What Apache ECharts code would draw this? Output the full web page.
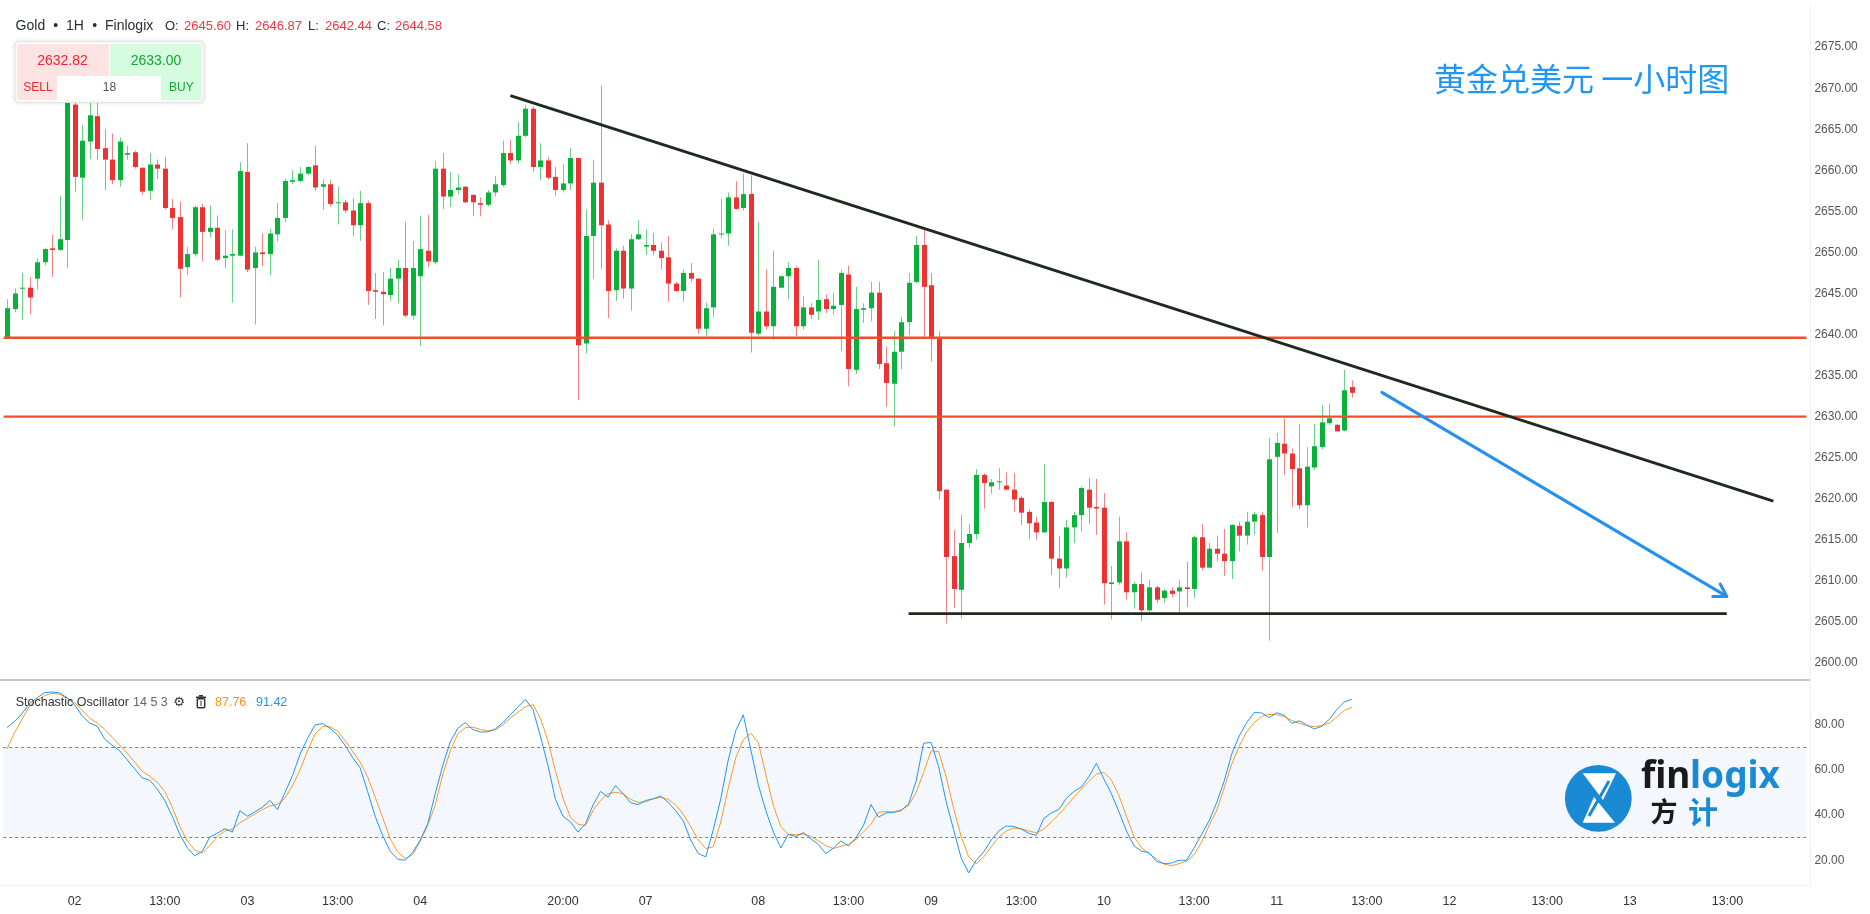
<!DOCTYPE html>
<html>
<head>
<meta charset="utf-8">
<title>Gold 1H</title>
<script src="https://cdn.jsdelivr.net/npm/echarts@6/dist/echarts.min.js"></script>
<style>
  html, body { margin: 0; padding: 0; background: #fff; }
  #chart { width: 1870px; height: 914px; }
</style>
</head>
<body>
<div id="chart"></div>
<script>
// hourly candles, one row per bar: [open, close, low, high]
var ohlc = [
  [2639.7, 2643.2, 2639.5, 2644.3], [2643.1, 2645.0, 2642.7, 2645.6], [2645.6, 2645.7, 2641.8, 2647.5], [2645.7, 2644.5, 2642.5, 2647.0],
  [2646.8, 2648.8, 2645.5, 2649.3], [2648.8, 2650.4, 2648.4, 2650.5], [2650.5, 2650.3, 2647.0, 2652.2], [2650.3, 2651.6, 2650.2, 2656.9],
  [2651.5, 2668.4, 2648.1, 2669.6], [2668.0, 2659.2, 2657.4, 2668.6], [2659.1, 2663.6, 2654.0, 2665.5], [2663.5, 2666.7, 2661.4, 2668.4],
  [2666.6, 2662.6, 2661.3, 2668.2], [2662.7, 2661.3, 2657.6, 2665.0], [2661.3, 2658.8, 2658.3, 2664.5], [2658.8, 2663.5, 2658.0, 2664.0],
  [2661.9, 2662.1, 2661.3, 2663.0], [2662.2, 2660.4, 2660.2, 2662.4], [2660.3, 2657.4, 2657.0, 2660.4], [2657.5, 2660.7, 2656.4, 2662.1],
  [2660.7, 2660.2, 2658.9, 2661.3], [2660.2, 2655.4, 2655.2, 2661.6], [2655.4, 2654.2, 2652.8, 2656.5], [2654.3, 2648.0, 2644.5, 2656.2],
  [2648.2, 2649.8, 2647.2, 2650.7], [2649.8, 2655.5, 2649.5, 2655.7], [2655.5, 2652.5, 2648.9, 2655.9], [2652.5, 2653.0, 2651.8, 2655.7],
  [2653.0, 2649.1, 2648.9, 2654.5], [2649.3, 2649.6, 2648.1, 2652.7], [2649.6, 2649.8, 2643.9, 2652.8], [2649.6, 2659.9, 2649.5, 2661.0],
  [2659.8, 2647.9, 2647.6, 2663.3], [2648.1, 2650.0, 2641.2, 2650.7], [2650.0, 2649.8, 2648.3, 2652.3], [2649.8, 2652.3, 2647.2, 2652.9],
  [2652.2, 2654.2, 2651.3, 2656.0], [2654.2, 2658.7, 2653.7, 2659.0], [2658.6, 2658.8, 2658.3, 2660.0], [2658.7, 2659.6, 2658.5, 2660.4],
  [2659.6, 2660.4, 2659.4, 2660.5], [2660.6, 2657.9, 2657.5, 2663.0], [2658.0, 2658.3, 2655.2, 2658.9], [2658.3, 2655.9, 2655.6, 2658.8],
  [2656.0, 2656.1, 2653.4, 2658.0], [2656.1, 2655.1, 2654.8, 2656.4], [2655.1, 2653.3, 2652.0, 2656.6], [2653.3, 2656.0, 2651.4, 2657.5],
  [2656.0, 2645.3, 2643.6, 2656.3], [2645.4, 2645.2, 2641.9, 2647.5], [2645.2, 2644.9, 2641.1, 2647.6], [2644.8, 2646.8, 2644.1, 2648.1],
  [2646.8, 2648.1, 2643.8, 2649.1], [2648.1, 2642.3, 2642.1, 2653.7], [2642.3, 2648.1, 2641.8, 2651.4], [2647.1, 2650.4, 2638.6, 2654.4],
  [2650.2, 2648.9, 2648.2, 2654.6], [2648.8, 2660.2, 2648.6, 2661.1], [2660.2, 2656.8, 2655.3, 2662.1], [2656.8, 2657.6, 2655.5, 2659.8],
  [2657.6, 2657.9, 2657.1, 2659.5], [2658.0, 2656.1, 2656.0, 2658.1], [2657.0, 2656.1, 2654.4, 2657.1], [2656.0, 2655.8, 2654.4, 2656.7],
  [2655.8, 2657.3, 2655.6, 2657.6], [2657.3, 2658.3, 2656.8, 2659.3], [2658.2, 2662.1, 2658.0, 2663.6], [2662.1, 2661.2, 2660.8, 2663.7],
  [2661.2, 2664.2, 2660.8, 2665.9], [2664.2, 2667.5, 2664.0, 2668.0], [2667.5, 2660.4, 2659.8, 2667.8], [2660.4, 2661.2, 2658.8, 2663.3],
  [2661.2, 2659.1, 2658.9, 2661.6], [2659.2, 2657.6, 2656.9, 2660.4], [2657.6, 2658.4, 2657.3, 2660.8], [2658.4, 2661.5, 2657.6, 2662.7],
  [2661.5, 2638.7, 2632.0, 2661.5], [2638.9, 2652.0, 2637.7, 2655.2], [2652.0, 2658.5, 2646.8, 2661.3], [2658.5, 2653.3, 2648.0, 2670.3],
  [2653.4, 2645.3, 2642.0, 2653.9], [2645.4, 2650.2, 2644.1, 2650.5], [2650.2, 2645.6, 2644.4, 2650.8], [2645.6, 2651.6, 2642.9, 2652.2],
  [2651.6, 2652.2, 2651.5, 2653.9], [2650.7, 2650.9, 2649.7, 2652.8], [2650.9, 2650.2, 2649.7, 2652.4], [2650.2, 2649.3, 2647.9, 2651.2],
  [2649.4, 2646.2, 2644.0, 2652.0], [2646.2, 2645.3, 2645.2, 2646.4], [2645.3, 2647.5, 2644.0, 2647.9], [2647.5, 2646.8, 2646.4, 2648.7],
  [2646.8, 2640.7, 2640.1, 2646.9], [2640.7, 2643.2, 2639.7, 2643.9], [2643.3, 2652.2, 2642.1, 2652.9], [2652.2, 2652.3, 2651.7, 2656.5],
  [2652.3, 2656.7, 2650.8, 2657.3], [2656.7, 2655.3, 2655.2, 2658.7], [2655.4, 2657.1, 2655.1, 2659.6], [2657.1, 2640.2, 2637.8, 2659.4],
  [2640.1, 2642.8, 2639.9, 2653.7], [2642.8, 2641.0, 2640.6, 2647.9], [2641.0, 2645.8, 2639.4, 2650.2], [2645.7, 2647.1, 2645.6, 2647.2],
  [2647.1, 2648.1, 2644.3, 2648.8], [2648.1, 2641.0, 2639.8, 2648.3], [2641.0, 2643.3, 2640.6, 2644.7], [2643.3, 2642.4, 2641.9, 2643.8],
  [2642.8, 2644.2, 2641.8, 2649.1], [2644.3, 2643.1, 2642.6, 2644.9], [2643.1, 2643.5, 2642.4, 2645.1], [2643.6, 2647.5, 2638.0, 2647.9],
  [2647.3, 2635.8, 2633.7, 2648.4], [2635.7, 2643.1, 2635.2, 2645.8], [2643.0, 2643.2, 2641.4, 2643.8], [2643.2, 2645.1, 2641.6, 2646.4],
  [2645.1, 2636.4, 2635.8, 2646.4], [2636.5, 2634.1, 2631.2, 2638.5], [2634.0, 2637.9, 2628.8, 2640.4], [2637.9, 2641.5, 2635.8, 2642.1],
  [2641.5, 2646.3, 2639.9, 2647.5], [2646.4, 2650.9, 2646.2, 2652.0], [2650.9, 2645.8, 2639.7, 2652.9], [2646.0, 2639.5, 2636.7, 2647.5],
  [2639.5, 2620.9, 2619.9, 2640.4], [2621.1, 2612.9, 2604.8, 2621.1], [2613.0, 2609.0, 2606.7, 2616.2], [2608.9, 2614.6, 2605.4, 2618.0],
  [2614.6, 2615.7, 2614.0, 2616.9], [2615.7, 2622.9, 2615.0, 2623.6], [2622.9, 2621.9, 2618.8, 2623.1], [2621.5, 2622.0, 2620.6, 2622.4],
  [2622.0, 2622.1, 2621.1, 2623.7], [2621.6, 2621.1, 2621.0, 2623.2], [2621.1, 2619.9, 2618.4, 2623.1], [2620.1, 2618.3, 2616.8, 2620.3],
  [2618.4, 2617.0, 2615.1, 2618.7], [2617.1, 2615.9, 2615.0, 2617.8], [2615.9, 2619.6, 2615.8, 2624.2], [2619.6, 2612.7, 2610.7, 2619.7],
  [2612.7, 2611.5, 2609.1, 2615.5], [2611.5, 2616.5, 2610.4, 2617.4], [2616.5, 2618.0, 2614.6, 2618.4], [2618.0, 2621.3, 2616.0, 2621.5],
  [2621.1, 2618.9, 2616.9, 2622.5], [2619.0, 2618.8, 2615.6, 2622.4], [2618.9, 2609.7, 2607.1, 2620.7], [2609.6, 2609.8, 2605.3, 2611.8],
  [2609.8, 2614.8, 2609.5, 2617.8], [2614.8, 2608.6, 2607.7, 2615.9], [2608.6, 2609.6, 2606.6, 2609.9], [2609.6, 2606.4, 2605.1, 2611.0],
  [2606.4, 2609.2, 2606.2, 2610.1], [2609.2, 2607.7, 2607.3, 2609.4], [2607.9, 2608.8, 2607.3, 2609.0], [2608.8, 2608.4, 2608.0, 2609.2],
  [2608.7, 2609.2, 2606.1, 2610.1], [2609.2, 2609.0, 2606.8, 2612.3], [2609.0, 2615.3, 2607.9, 2615.5], [2615.3, 2611.6, 2611.3, 2616.9],
  [2611.6, 2613.9, 2611.5, 2614.6], [2613.9, 2613.3, 2612.4, 2615.5], [2613.3, 2612.4, 2610.6, 2616.3], [2612.4, 2616.8, 2610.2, 2616.9],
  [2616.7, 2615.5, 2613.6, 2617.2], [2615.5, 2617.2, 2614.4, 2618.4], [2617.2, 2618.1, 2615.6, 2618.4], [2618.0, 2612.9, 2611.2, 2618.4],
  [2612.9, 2624.8, 2602.7, 2627.4], [2625.1, 2626.8, 2615.8, 2628.0], [2626.7, 2625.5, 2622.9, 2629.8], [2625.5, 2623.6, 2619.0, 2626.1],
  [2623.7, 2619.2, 2618.7, 2629.1], [2619.2, 2623.9, 2616.5, 2626.3], [2623.8, 2626.4, 2623.5, 2629.1], [2626.3, 2629.3, 2626.0, 2631.4],
  [2629.2, 2629.8, 2629.0, 2631.5], [2629.0, 2628.2, 2628.2, 2629.1], [2628.3, 2633.2, 2628.2, 2635.7], [2633.6, 2632.9, 2632.3, 2634.4]
];

// stochastic oscillator 14 5 3
var stochK = [
  78.8, 81.5, 85, 89.5, 92, 94.3, 94.6, 94.2, 92, 89, 84, 80.8, 79.5, 73.7, 71, 68.5, 64.5, 60.5, 56.5, 55.5,
  51.6, 46.5, 39.5, 31.5, 25.5, 22, 24, 30.3, 32, 34, 32.5, 42, 39.5, 41.5, 43.5, 46.5, 42.5, 50, 57.5, 67,
  74, 80, 80.6, 78.5, 75.5, 71, 65.5, 61, 50.5, 39.5, 31, 24, 20.5, 20, 23.5, 29, 36.2, 49.5, 62, 72.5,
  78.5, 81, 78, 76.9, 76.9, 78.2, 81, 84.5, 88, 91.3, 86.9, 75, 62, 47, 39.5, 37, 32.5, 36.2, 44.5, 50.5,
  48, 53.1, 49.5, 45.5, 44.7, 46.5, 47.2, 48.5, 45.7, 42, 37.5, 29, 23, 21.5, 33.5, 47.2, 64.5, 77.5, 84.5, 69,
  53.5, 42, 32.5, 25.5, 31.5, 30.5, 32.3, 29.5, 27, 22.9, 25.5, 28.6, 26.3, 30, 35.5, 44.7, 39.1, 41, 41.3, 42,
  45, 55, 71.9, 72.2, 61.5, 46, 33.5, 21, 14.4, 20, 23.7, 29, 33, 35.2, 35, 33.8, 32, 31, 38.5, 41,
  42.5, 47.5, 50.5, 52.5, 57, 63, 56, 49.5, 41.5, 33, 26.4, 24, 23.4, 19.5, 18.5, 18.8, 20, 20, 25.5, 31.5,
  37.5, 45.5, 55, 67, 75, 81, 85.5, 85.3, 83.2, 85.4, 84.3, 80.7, 81.8, 80, 78.2, 79.4, 82.5, 86.8, 90.2, 91.42
];
var stochD = [
  69.3, 76.5, 82.5, 88.5, 91, 93, 94, 93.6, 91.8, 89.8, 86.5, 83, 80.8, 78.1, 74.5, 71, 67.5, 63.5, 59.5, 57.2,
  54.6, 50.5, 43.5, 35, 28.5, 24.5, 23.2, 26.5, 30.5, 33, 33.8, 36.6, 38.6, 40.5, 42.5, 44.1, 44.8, 47.5, 53.1, 60,
  68.5, 76, 79.3, 79.2, 77.2, 73, 68.3, 63.5, 57, 48, 39, 29.5, 23.7, 20.7, 22.5, 28.5, 35.5, 44.5, 58, 68.5,
  76, 78.8, 79, 78, 77.4, 77.8, 80, 83, 85.6, 88, 89, 83, 73, 59.5, 47.5, 39, 36, 35.4, 42, 46.5,
  49.5, 50.1, 49.5, 47, 45.7, 45.9, 47.3, 47.9, 47, 44.5, 40.5, 35, 29, 25.2, 26, 36.9, 52, 65.5, 73.5, 76.3,
  72.2, 58, 44.3, 35, 31.5, 31.3, 31.6, 30.6, 28.6, 26.4, 25.2, 26.2, 27.2, 29.2, 32.5, 36, 41.3, 41.6, 41.4, 42.3,
  44.3, 50, 59, 68.5, 68.2, 57, 43, 30.5, 21.5, 18.5, 21.5, 26, 30.2, 33, 34.2, 34, 33, 32.2, 33.8, 37,
  40.3, 44, 48, 51.5, 55, 58.2, 59, 55.5, 48.7, 39.5, 30.5, 25.5, 23, 20.5, 18.3, 17.6, 18.5, 19.6, 22.5, 28,
  35.5, 42, 52, 62.5, 70.5, 77, 81, 83.8, 84.7, 84.5, 83.7, 82, 80.7, 79.6, 79.3, 79.7, 80.8, 83.5, 86.5, 87.76
];

// time axis: bar slot index -> label
var tickIdx = [9, 21, 32, 44, 55, 74, 85, 100, 112, 123, 135, 146, 158, 169, 181, 192, 205, 216, 229];
var tickText = ['02', '13:00', '03', '13:00', '04', '20:00', '07', '08', '13:00', '09', '13:00', '10', '13:00', '11', '13:00', '12', '13:00', '13', '13:00'];
var priceTicks = [2600, 2605, 2610, 2615, 2620, 2625, 2630, 2635, 2640, 2645, 2650, 2655, 2660, 2665, 2670, 2675];
var oscTicks = [20, 40, 60, 80];

// drawn analysis lines (bar index, price)
var levels = [2639.6, 2630];
var trendLine = [[67.0, 2669.1], [235.1, 2619.7]];
var baseLine = [[120.0, 2606.0], [228.9, 2606.0]];
var arrowLine = [[183.0, 2632.95, 228.9, 2608.1]];

var slots = 240;
var bodyUp = '#08b23a', bodyDown = '#ef3131';
var wickUp = 'rgba(8,178,58,0.6)', wickDown = 'rgba(239,49,49,0.6)';
var uiFont = 'Liberation Sans';

var candleData = ohlc.map(function (r, i) { return [i, r[0], r[1], r[2], r[3]]; });
var kData = stochK.map(function (v, i) { return [i, v]; });
var dData = stochD.map(function (v, i) { return [i, v]; });

function renderCandle(params, api) {
  var i = api.value(0);
  var o = api.value(1), c = api.value(2), lo = api.value(3), hi = api.value(4);
  var pHi = api.coord([i, hi]), pLo = api.coord([i, lo]);
  var pO = api.coord([i, o]), pC = api.coord([i, c]);
  var up = c >= o;
  var x = Math.round(pHi[0]) + 0.5;
  var w = 5;
  var y0 = Math.min(pO[1], pC[1]);
  var h = Math.max(Math.abs(pO[1] - pC[1]), 1);
  return {
    type: 'group',
    children: [
      { type: 'line', shape: { x1: x, y1: pHi[1], x2: x, y2: pLo[1] },
        style: { stroke: up ? wickUp : wickDown, lineWidth: 1 } },
      { type: 'rect', shape: { x: x - w / 2, y: y0, width: w, height: h },
        style: { fill: up ? bodyUp : bodyDown } }
    ]
  };
}

function renderArrow(params, api) {
  var a = api.coord([api.value(0), api.value(1)]);
  var b = api.coord([api.value(2), api.value(3)]);
  var ang = Math.atan2(b[1] - a[1], b[0] - a[0]);
  var len = 14, spread = 0.55;
  var p1 = [b[0] - len * Math.cos(ang - spread), b[1] - len * Math.sin(ang - spread)];
  var p2 = [b[0] - len * Math.cos(ang + spread), b[1] - len * Math.sin(ang + spread)];
  var st = { stroke: '#2490f0', lineWidth: 3, lineCap: 'round', lineJoin: 'round', fill: null };
  return {
    type: 'group',
    children: [
      { type: 'line', shape: { x1: a[0], y1: a[1], x2: b[0], y2: b[1] }, style: st },
      { type: 'polyline', shape: { points: [p1, b, p2] }, style: st }
    ]
  };
}

function flatLine(name, pts, color, width) {
  return {
    name: name, type: 'line', xAxisIndex: 0, yAxisIndex: 0,
    data: pts, symbol: 'none', silent: true, z: 4,
    lineStyle: { color: color, width: width }
  };
}

var series = [
  {
    name: 'Gold', type: 'custom', xAxisIndex: 0, yAxisIndex: 0,
    renderItem: renderCandle, data: candleData, z: 2,
    encode: { x: 0, y: [1, 2, 3, 4] }
  }
];
levels.forEach(function (lv, i) {
  series.push(flatLine('level' + i, [[-0.45, lv], [slots - 0.5, lv]], '#f24e2b', 2.4));
});
series.push(flatLine('trend', trendLine, '#1d2a1d', 2.8));
series.push(flatLine('base', baseLine, '#1d2a1d', 2.6));
series.push({
  name: 'arrow', type: 'custom', xAxisIndex: 0, yAxisIndex: 0,
  renderItem: renderArrow, data: arrowLine, z: 5, silent: true,
  encode: { x: [0, 2], y: [1, 3] }
});
series.push({
  name: '%K', type: 'line', xAxisIndex: 1, yAxisIndex: 1, data: kData,
  symbol: 'none', z: 4, lineStyle: { color: '#2196f3', width: 1 },
  markArea: {
    silent: true, itemStyle: { color: '#f4f8fe' },
    data: [[{ yAxis: 30 }, { yAxis: 70 }]]
  },
  markLine: {
    silent: true, symbol: 'none', label: { show: false },
    lineStyle: { color: '#2196f3', type: [3, 3], width: 1 },
    data: [{ yAxis: 70 }, { yAxis: 30 }]
  }
});
series.push({
  name: '%D', type: 'line', xAxisIndex: 1, yAxisIndex: 1, data: dData,
  symbol: 'none', z: 3, lineStyle: { color: '#f89b29', width: 1 }
});

function txt(x, y, s, color, size, extra) {
  var st = { x: x, y: y, text: s, fill: color, font: size + 'px "' + uiFont + '"', textVerticalAlign: 'middle' };
  for (var k in extra) st[k] = extra[k];
  return { type: 'text', z: 101, style: st };
}

var graphics = [
  // pane frames
  { type: 'line', z: 50, shape: { x1: 0, y1: 680, x2: 1810, y2: 680 }, style: { stroke: '#c6c6c6', lineWidth: 2 } },
  { type: 'line', z: 50, shape: { x1: 0, y1: 885.5, x2: 1810, y2: 885.5 }, style: { stroke: '#efefef', lineWidth: 1 } },
  { type: 'line', z: 50, shape: { x1: 1810.5, y1: 4, x2: 1810.5, y2: 885 }, style: { stroke: '#f0f0f0', lineWidth: 1 } },

  // header
  txt(15.6, 26, 'Gold', '#2a2e39', 14),
  txt(55.8, 26, '•', '#2a2e39', 14, { textAlign: 'center' }),
  txt(66, 26, '1H', '#2a2e39', 14),
  txt(94.6, 26, '•', '#2a2e39', 14, { textAlign: 'center' }),
  txt(105, 26, 'Finlogix', '#2a2e39', 14),
  txt(165, 26, 'O:', '#2a2e39', 13),
  txt(184, 26, '2645.60', '#f23645', 13),
  txt(236, 26, 'H:', '#2a2e39', 13),
  txt(255, 26, '2646.87', '#f23645', 13),
  txt(308, 26, 'L:', '#2a2e39', 13),
  txt(325, 26, '2642.44', '#f23645', 13),
  txt(377, 26, 'C:', '#2a2e39', 13),
  txt(395, 26, '2644.58', '#f23645', 13),

  // sell / buy panel
  { type: 'rect', z: 100, shape: { x: 15, y: 41.5, width: 189, height: 61, r: 4 },
    style: { fill: '#fff', stroke: '#e4e4e4', lineWidth: 1, shadowBlur: 4, shadowColor: 'rgba(0,0,0,0.12)' } },
  { type: 'rect', z: 100, shape: { x: 17, y: 44, width: 92, height: 56, r: [2, 0, 0, 2] }, style: { fill: '#fde3e3' } },
  { type: 'rect', z: 100, shape: { x: 110, y: 44, width: 92, height: 56, r: [0, 2, 2, 0] }, style: { fill: '#d5fcdf' } },
  { type: 'rect', z: 100, shape: { x: 57, y: 76, width: 104, height: 24 }, style: { fill: '#ffffff' } },
  txt(62.5, 60.7, '2632.82', '#f5222d', 14, { textAlign: 'center' }),
  txt(156, 60.7, '2633.00', '#16a534', 14, { textAlign: 'center' }),
  txt(38, 88, 'SELL', '#f5222d', 12, { textAlign: 'center' }),
  txt(109.4, 88, '18', '#555555', 12, { textAlign: 'center' }),
  txt(181.3, 88, 'BUY', '#16a534', 12, { textAlign: 'center' }),

  // title
  { type: 'text', z: 101, style: { x: 1434, y: 79, text: '黄金兑美元 一小时图', fill: '#2196f3',
    font: '32px "Noto Sans CJK SC"', textVerticalAlign: 'middle' } },

  // oscillator legend
  txt(15.7, 702.7, 'Stochastic Oscillator', '#333333', 12.5),
  txt(133, 702.7, '14 5 3', '#666666', 12.5),
  { type: 'text', z: 101, style: { x: 179, y: 702.7, text: '⚙', fill: '#333', font: '13px "DejaVu Sans"',
    textAlign: 'center', textVerticalAlign: 'middle' } },
  { type: 'rect', z: 101, shape: { x: 199, y: 695, width: 4, height: 1.6 }, style: { fill: '#333' } },
  { type: 'rect', z: 101, shape: { x: 196, y: 696.5, width: 10, height: 1.6 }, style: { fill: '#333' } },
  { type: 'rect', z: 101, shape: { x: 197.3, y: 698.8, width: 7.4, height: 9, r: 1 },
    style: { fill: 'none', stroke: '#333', lineWidth: 1.5 } },
  { type: 'line', z: 101, shape: { x1: 201, y1: 700.5, x2: 201, y2: 706 }, style: { stroke: '#333', lineWidth: 1 } },
  txt(215, 702.7, '87.76', '#f7931a', 12.5),
  txt(256, 702.7, '91.42', '#2196f3', 12.5),

  // logo
  { type: 'circle', z: 101, shape: { cx: 1598.3, cy: 798.3, r: 33.4 }, style: { fill: '#1a8ad4' } },
  { type: 'polygon', z: 102, shape: { points: [[1582.7, 773.3], [1616, 773.3], [1603, 800]] }, style: { fill: '#fff' } },
  { type: 'polygon', z: 102, shape: { points: [[1582.7, 822.8], [1615, 822.8], [1594, 797]] }, style: { fill: '#fff' } },
  { type: 'line', z: 103, shape: { x1: 1609, y1: 781, x2: 1589, y2: 816 }, style: { stroke: '#1a8ad4', lineWidth: 3 } },
  { type: 'text', z: 101, style: { x: 1641, y: 777, text: 'fin', fill: '#1a1a1a',
    font: 'bold 37px "Noto Sans"', textVerticalAlign: 'middle' } },
  { type: 'text', z: 101, style: { x: 1690, y: 777, text: 'logix', fill: '#1a8ad4',
    font: 'bold 37px "Noto Sans"', textVerticalAlign: 'middle' } },
  { type: 'text', z: 101, style: { x: 1664, y: 812, text: '方', fill: '#1a1a1a',
    font: 'bold 27px "Noto Sans CJK SC"', textAlign: 'center', textVerticalAlign: 'middle' } },
  { type: 'text', z: 101, style: { x: 1703, y: 812, text: '计', fill: '#1a8ad4',
    font: 'bold 30px "Noto Sans CJK SC"', textAlign: 'center', textVerticalAlign: 'middle' } }
];

var chart = echarts.init(document.getElementById('chart'));
chart.setOption({
  animation: false,
  backgroundColor: '#ffffff',
  grid: [
    { left: 3.24, right: 63.6, top: 6.1, height: 673.2 },
    { left: 3.24, right: 63.6, top: 679.8, height: 205.3 }
  ],
  xAxis: [
    { type: 'value', gridIndex: 0, min: -0.5, max: slots - 0.5, show: false },
    {
      type: 'value', gridIndex: 1, min: -0.5, max: slots - 0.5,
      axisLine: { show: false }, axisTick: { show: false }, splitLine: { show: false },
      axisLabel: {
        customValues: tickIdx, margin: 10, color: '#333333', fontSize: 12.5, fontFamily: uiFont,
        formatter: function (v) { var k = tickIdx.indexOf(v); return k < 0 ? '' : tickText[k]; }
      }
    }
  ],
  yAxis: [
    {
      type: 'value', gridIndex: 0, position: 'right', min: 2598, max: 2680,
      axisLine: { show: false }, axisTick: { show: false }, splitLine: { show: false },
      axisLabel: {
        customValues: priceTicks, margin: 8, color: '#555555', fontSize: 12, fontFamily: uiFont,
        formatter: function (v) { return v.toFixed(2); }
      }
    },
    {
      type: 'value', gridIndex: 1, position: 'right', min: 9, max: 100,
      axisLine: { show: false }, axisTick: { show: false }, splitLine: { show: false },
      axisLabel: {
        customValues: oscTicks, margin: 8, color: '#555555', fontSize: 12, fontFamily: uiFont,
        formatter: function (v) { return v.toFixed(2); }
      }
    }
  ],
  series: series,
  graphic: graphics
});
</script>
</body>
</html>
